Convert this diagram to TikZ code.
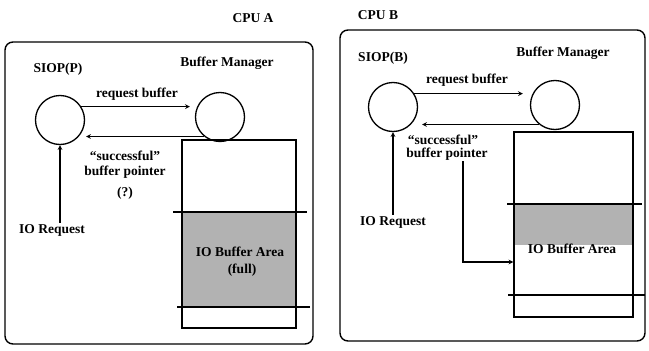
\documentclass[tikz,border=0pt]{standalone}
\usepackage{fontspec}
\setmainfont{Liberation Serif}
\usetikzlibrary{positioning}

\tikzset{
	proc/.style={circle,draw,line width=1.3pt,minimum size=49pt,inner sep=0pt},
	cpubox/.style={draw,line width=1.4pt,rounded corners=8pt},
	lbl/.style={font=\fontsize{13.5}{15}\selectfont\bfseries,inner sep=1pt},
	arr/.style={->,>=stealth,line width=1.1pt},
	bar/.style={line width=1.3pt},
	shade/.style={fill=gray!60},
}

\begin{document}
\begin{tikzpicture}[x=1pt,y=-1pt]
	\useasboundingbox (0,0) rectangle (649,351);

	% CPU A
	\draw[cpubox] (5,42) rectangle (313,344);
	\node[lbl] (cpuA) at (253,18) {CPU A};
	\node[lbl] (siopAlbl) at (58,69) {SIOP(P)};
	\node[lbl] (bmAlbl) at (227,63) {Buffer Manager};
	\node[proc] (siopA) at (60,120) {};
	\node[proc] (bmA) at (220,117) {};
	\fill[shade] (182,212) rectangle (296,307);
	\node[draw,bar,minimum width=114pt,minimum height=188pt,inner sep=0pt] (areaA) at (239,234) {};
	\draw[bar] (173,212) -- (307,212);
	\draw[bar] (177,307) -- (310,307);
	\node[lbl] (areaAlbl) at (240,252) {IO Buffer Area};
	\node[lbl] (fullA) at (242,270) {(full)};
	\node[lbl] (reqA) at (137,94) {request buffer};
	\draw[arr,shorten >=5pt] (siopA.32) -- (siopA.32 -| bmA.west);
	\draw[arr,shorten >=1pt] (bmA.231) -- (bmA.231 -| siopA.east);
	\node[lbl] (succA) at (125,156) {``successful''};
	\node[lbl] (ptrA) at (125,172) {buffer pointer};
	\node[lbl] (unkA) at (125,193) {(?)};
	\node[lbl] (ioA) at (52,230) {IO Request};
	\draw[arr] (ioA.north -| siopA.south) -- (siopA.south);

	% CPU B
	\draw[cpubox] (340,30) rectangle (645,341);
	\node[lbl] (cpuB) at (378,15) {CPU B};
	\node[lbl] (siopBlbl) at (383,58) {SIOP(B)};
	\node[lbl] (bmBlbl) at (563,53) {Buffer Manager};
	\node[proc] (siopB) at (393,107) {};
	\node[proc] (bmB) at (555,105) {};
	\fill[shade] (514,204) rectangle (633,245);
	\node[draw,bar,minimum width=119pt,minimum height=185pt,inner sep=0pt] (areaB) at (573.5,224.5) {};
	\draw[bar] (507,204) -- (642,204);
	\draw[bar] (508,295) -- (645,295);
	\node[lbl] (areaBlbl) at (572,249) {IO Buffer Area};
	\node[lbl] (reqB) at (467,80) {request buffer};
	\draw[arr,shorten >=7pt] (siopB.32) -- (siopB.32 -| bmB.west);
	\draw[arr,shorten >=4pt] (bmB.231) -- (bmB.231 -| siopB.east);
	\node[lbl] (succB) at (443,140) {``successful''};
	\node[lbl] (ptrB) at (447,154) {buffer pointer};
	\coordinate (bendB) at (463,262);
	\draw[arr] (bendB |- ptrB.south) -- (bendB) -- (bendB -| areaB.west);
	\node[lbl] (ioB) at (393,222) {IO Request};
	\draw[arr] (ioB.north -| siopB.south) -- (siopB.south);
\end{tikzpicture}
\end{document}
